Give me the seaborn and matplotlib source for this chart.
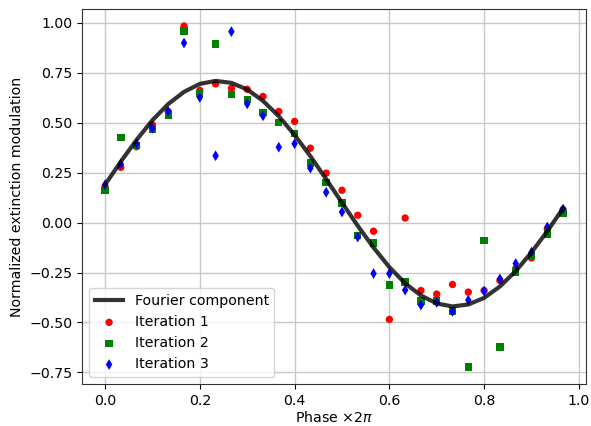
import numpy as np
import pandas as pd
import matplotlib
matplotlib.use("Agg")
import matplotlib.pyplot as plt
import seaborn as sns

phase = [k / 30 for k in range(30)]

fourier = [0.190, 0.306, 0.415, 0.513, 0.594, 0.655, 0.695, 0.710, 0.700, 0.667,
           0.610, 0.533, 0.439, 0.333, 0.218, 0.100, -0.016, -0.125, -0.223, -0.304,
           -0.365, -0.405, -0.420, -0.410, -0.377, -0.320, -0.243, -0.149, -0.043, 0.072]

iter1 = [0.18, 0.277, 0.38, 0.49, 0.557, 0.985, 0.662, 0.695, 0.673, 0.668,
         0.632, 0.557, 0.507, 0.373, 0.248, 0.162, 0.037, -0.043, -0.485, 0.023,
         -0.34, -0.358, -0.31, -0.348, -0.34, -0.29, -0.23, -0.177, -0.032, 0.065]

iter2 = [0.16, 0.428, 0.385, 0.468, 0.54, 0.96, 0.648, 0.895, 0.643, 0.618,
         0.553, 0.502, 0.445, 0.298, 0.202, 0.098, -0.063, -0.102, -0.313, -0.298,
         -0.393, -0.393, -0.443, -0.723, -0.088, -0.623, -0.247, -0.165, -0.057, 0.045]

iter3 = [0.19, 0.293, 0.395, 0.473, 0.557, 0.90, 0.627, 0.335, 0.957, 0.595,
         0.535, 0.378, 0.395, 0.273, 0.152, 0.053, -0.072, -0.255, -0.255, -0.338,
         -0.413, -0.40, -0.445, -0.388, -0.343, -0.282, -0.205, -0.148, -0.022, 0.068]

plt.rcParams['font.family'] = ['DejaVu Sans']
plt.rcParams['font.size'] = 10.2
fig, ax = plt.subplots(figsize=(5.91, 4.26), dpi=100)

df_line = pd.DataFrame({"phase": phase, "val": fourier})
sns.lineplot(data=df_line, x="phase", y="val", ax=ax, color="black", alpha=0.8,
             linewidth=3, label="Fourier component", zorder=3)

sns.scatterplot(x=phase, y=iter1, ax=ax, color="red", marker="o", s=28,
                edgecolor="none", label="Iteration 1", zorder=2)
sns.scatterplot(x=phase, y=iter2, ax=ax, color="green", marker="s", s=28,
                edgecolor="none", label="Iteration 2", zorder=2)
sns.scatterplot(x=phase, y=iter3, ax=ax, color="blue", marker="d", s=30,
                edgecolor="none", label="Iteration 3", zorder=2)

ax.grid(True, color="#c8c8c8", linewidth=1.0)
ax.set_axisbelow(True)
ax.set_xlabel("Phase ×2$\\pi$", labelpad=2)
ax.set_ylabel("Normalized extinction modulation")
ax.set_xticks([0.0, 0.2, 0.4, 0.6, 0.8, 1.0])
ax.set_yticks([-0.75, -0.5, -0.25, 0.0, 0.25, 0.5, 0.75, 1.0])
for sp in ax.spines.values():
    sp.set_color("#333333")
ax.legend(loc="lower left")
fig.subplots_adjust(left=0.139, right=0.9915, top=0.979, bottom=0.0986)
fig.savefig("out.png", dpi=100)
